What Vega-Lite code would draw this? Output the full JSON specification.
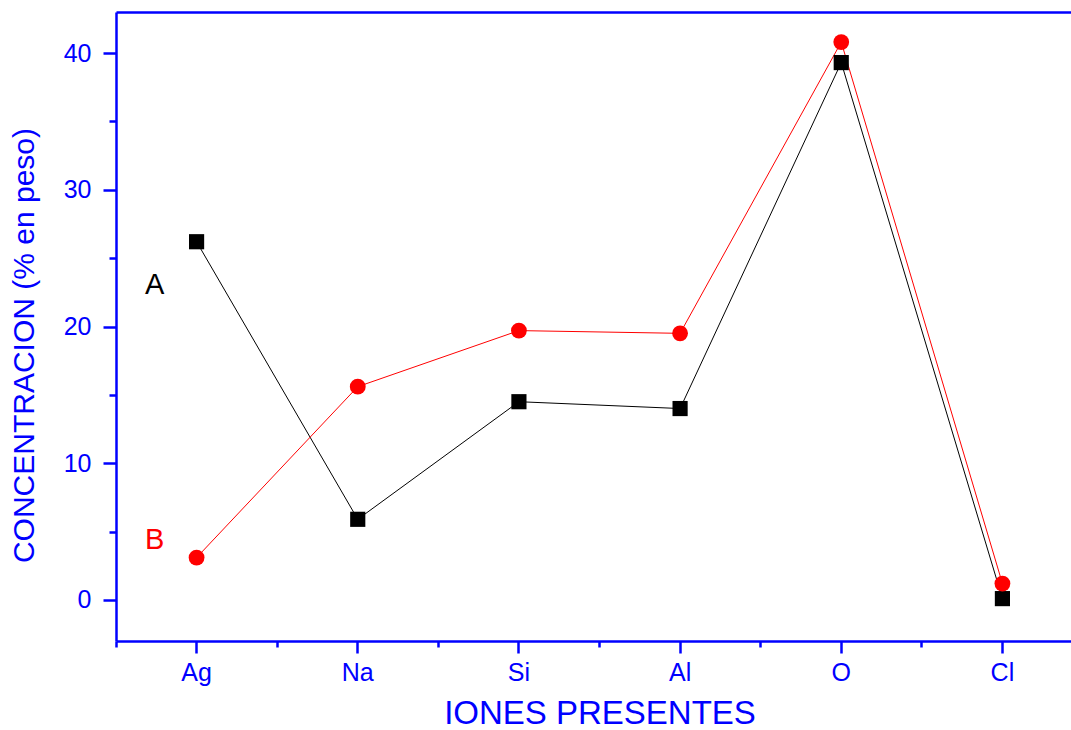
{
  "$schema": "https://vega.github.io/schema/vega-lite/v6.json",
  "width": 955,
  "height": 629,
  "autosize": {"type": "none"},
  "padding": {"left": 116, "top": 12, "right": 0, "bottom": 89},
  "background": "white",
  "config": {
    "view": {"stroke": null},
    "font": "Liberation Sans"
  },
  "datasets": {
    "conc": [
      {"ion": "Ag", "muestra": "A", "valor": 26.2},
      {"ion": "Na", "muestra": "A", "valor": 5.9},
      {"ion": "Si", "muestra": "A", "valor": 14.5},
      {"ion": "Al", "muestra": "A", "valor": 14.0},
      {"ion": "O", "muestra": "A", "valor": 39.3},
      {"ion": "Cl", "muestra": "A", "valor": 0.1},
      {"ion": "Ag", "muestra": "B", "valor": 3.1},
      {"ion": "Na", "muestra": "B", "valor": 15.6},
      {"ion": "Si", "muestra": "B", "valor": 19.7},
      {"ion": "Al", "muestra": "B", "valor": 19.5},
      {"ion": "O", "muestra": "B", "valor": 40.8},
      {"ion": "Cl", "muestra": "B", "valor": 1.2}
    ],
    "etiquetas": [
      {"ion": "Ag", "muestra": "A", "valor": 23.0},
      {"ion": "Ag", "muestra": "B", "valor": 4.4}
    ]
  },
  "layer": [
    {
      "data": {"name": "conc"},
      "mark": {"type": "line", "strokeWidth": 1},
      "encoding": {
        "x": {
          "field": "ion", "type": "nominal", "sort": null,
          "scale": {"type": "band", "domain": ["Ag", "Na", "Si", "Al", "O", "Cl"], "range": [0, 967], "paddingInner": 0, "paddingOuter": 0},
          "axis": {
            "orient": "bottom", "bandPosition": 0.5, "grid": false,
            "domainColor": "#0000FF", "domainWidth": 2.5,
            "tickColor": "#0000FF", "tickWidth": 2.5, "tickSize": 12,
            "labelColor": "#0000FF", "labelFont": "Liberation Sans", "labelFontSize": 25, "labelPadding": 7, "labelAngle": 0,
            "title": "IONES PRESENTES", "titleColor": "#0000FF", "titleFont": "Liberation Sans", "titleFontSize": 33, "titleFontWeight": "normal", "titlePadding": 12
          }
        },
        "y": {
          "field": "valor", "type": "quantitative",
          "scale": {"domain": [-3, 43], "nice": false, "zero": false},
          "axis": {
            "orient": "left", "values": [0, 10, 20, 30, 40], "grid": false,
            "domainColor": "#0000FF", "domainWidth": 2.5,
            "tickColor": "#0000FF", "tickWidth": 2.5, "tickSize": 13,
            "labelColor": "#0000FF", "labelFont": "Liberation Sans", "labelFontSize": 25, "labelPadding": 12,
            "title": "CONCENTRACION (% en peso)", "titleColor": "#0000FF", "titleFont": "Liberation Sans", "titleFontSize": 30, "titleFontWeight": "normal", "titlePadding": 24, "titleY": 333
          }
        },
        "color": {"field": "muestra", "type": "nominal", "scale": {"domain": ["A", "B"], "range": ["#000000", "#FF0000"]}, "legend": null}
      }
    },
    {
      "data": {"name": "conc"},
      "mark": {"type": "point", "filled": true, "opacity": 1},
      "encoding": {
        "x": {
          "field": "ion", "type": "nominal", "sort": null,
          "axis": {"orient": "bottom", "bandPosition": 0, "grid": false, "tickColor": "#0000FF", "tickWidth": 2.5, "tickSize": 6, "labels": false, "domain": false, "title": null}
        },
        "y": {
          "field": "valor", "type": "quantitative",
          "axis": {"orient": "left", "values": [5, 15, 25, 35], "grid": false, "tickColor": "#0000FF", "tickWidth": 2.5, "tickSize": 7, "labels": false, "domain": false, "title": null}
        },
        "color": {"field": "muestra", "type": "nominal", "legend": null},
        "shape": {"field": "muestra", "type": "nominal", "scale": {"domain": ["A", "B"], "range": ["square", "circle"]}, "legend": null},
        "size": {"field": "muestra", "type": "nominal", "scale": {"domain": ["A", "B"], "range": [230, 250]}, "legend": null}
      }
    },
    {
      "data": {"name": "etiquetas"},
      "mark": {"type": "text", "fontSize": 29, "dx": -42, "align": "center", "baseline": "middle", "font": "Liberation Sans"},
      "encoding": {
        "x": {
          "field": "ion", "type": "nominal", "sort": null,
          "axis": {"orient": "top", "grid": false, "ticks": false, "labels": false, "title": null, "domainColor": "#0000FF", "domainWidth": 2.5}
        },
        "y": {"field": "valor", "type": "quantitative", "axis": null},
        "text": {"field": "muestra"},
        "color": {"field": "muestra", "type": "nominal", "legend": null}
      }
    }
  ],
  "resolve": {"axis": {"x": "independent", "y": "independent"}}
}
